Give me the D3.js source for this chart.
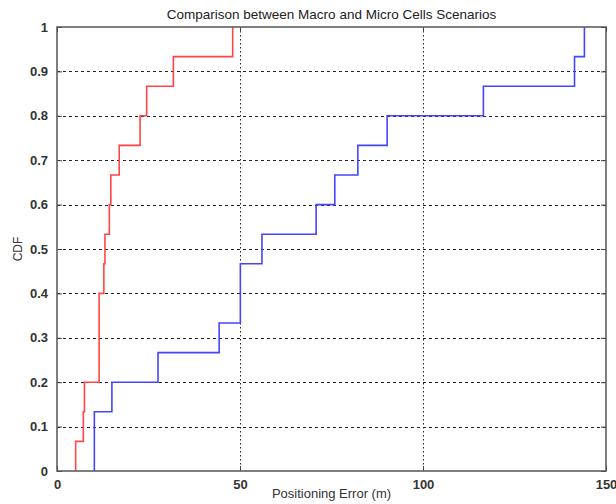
<!DOCTYPE html>
<html>
<head>
<meta charset="utf-8">
<script src="https://cdn.jsdelivr.net/npm/d3@7"></script>
<style>
  html, body { margin: 0; padding: 0; background: #fff; }
  svg { display: block; font-family: "Liberation Sans", Arial, sans-serif; }
</style>
</head>
<body>
<svg id="chart" width="616" height="504"></svg>
<script>
// Sorted samples read from the empirical CDF steps (15 samples each)
const macroErrors = [5.1, 7.2, 7.5, 11.5, 11.5, 11.5, 12.8, 13.1, 14.3, 14.7, 17.0, 22.7, 24.5, 31.8, 48.0];
const microErrors = [10.2, 10.2, 15.0, 27.6, 44.3, 50.1, 50.1, 56.0, 70.8, 75.9, 82.2, 90.2, 116.5, 141.4, 144.1];
const xTicks = [0, 50, 100, 150];
const yTicks = [0, 0.1, 0.2, 0.3, 0.4, 0.5, 0.6, 0.7, 0.8, 0.9, 1];
const yTickLabels = ["0", "0.1", "0.2", "0.3", "0.4", "0.5", "0.6", "0.7", "0.8", "0.9", "1"];
const titleText = "Comparison between Macro and Micro Cells Scenarios";
const xLabelText = "Positioning Error (m)";
const yLabelText = "CDF";

const svg = d3.select("#chart");
const m = { left: 57, top: 27, right: 606, bottom: 471 };
const x = d3.scaleLinear().domain([0, 150]).range([m.left, m.right]);
const y = d3.scaleLinear().domain([0, 1]).range([m.bottom, m.top]);
const W = m.right - m.left, H = m.bottom - m.top;

// grid
const grid = svg.append("g").attr("class", "grid");
grid.selectAll("line.h").data(yTicks.filter(t => t > 0 && t < 1)).enter().append("line")
  .attr("x1", m.left).attr("x2", m.right)
  .attr("y1", d => Math.round(y(d)) + 0.5).attr("y2", d => Math.round(y(d)) + 0.5)
  .attr("stroke", "#222").attr("stroke-width", 1).attr("stroke-dasharray", "3,3");
grid.selectAll("line.v").data(xTicks.filter(t => t > 0 && t < 150)).enter().append("line")
  .attr("y1", m.top).attr("y2", m.bottom)
  .attr("x1", d => Math.round(x(d)) + 0.5).attr("x2", d => Math.round(x(d)) + 0.5)
  .attr("stroke", "#222").attr("stroke-width", 1).attr("stroke-dasharray", "1.5,2.5");

// axes with inward ticks
const yLab = d3.scaleOrdinal().domain(yTicks).range(yTickLabels);
const axisStyle = g => {
  g.select(".domain").remove();
  g.selectAll(".tick line").attr("stroke", "#444").attr("stroke-width", 1);
  g.selectAll(".tick text").attr("fill", "#333").attr("font-size", "13px").attr("font-weight", "bold")
    .attr("font-family", "'Liberation Sans', Arial, sans-serif");
};
svg.append("g").attr("transform", `translate(0,${m.bottom})`)
  .call(d3.axisBottom(x).tickValues(xTicks).tickSizeInner(-5).tickSizeOuter(0).tickPadding(9).tickFormat(d3.format("d")))
  .call(axisStyle);
svg.append("g").attr("transform", `translate(0,${m.top})`)
  .call(d3.axisTop(x).tickValues(xTicks).tickSizeInner(-5).tickSizeOuter(0).tickFormat(""))
  .call(axisStyle);
svg.append("g").attr("transform", `translate(${m.left},0)`)
  .call(d3.axisLeft(y).tickValues(yTicks).tickSizeInner(-5).tickSizeOuter(0).tickPadding(9).tickFormat(d => yLab(d)))
  .call(axisStyle);
svg.append("g").attr("transform", `translate(${m.right},0)`)
  .call(d3.axisRight(y).tickValues(yTicks).tickSizeInner(-5).tickSizeOuter(0).tickFormat(""))
  .call(axisStyle);

// CDF step lines
function cdfPoints(arr) {
  const n = arr.length;
  const pts = [[arr[0], 0]];
  arr.forEach((v, i) => pts.push([v, (i + 1) / n]));
  return pts;
}
const line = d3.line().x(d => x(d[0])).y(d => y(d[1])).curve(d3.curveStepAfter);
svg.append("path").datum(cdfPoints(macroErrors)).attr("d", line)
  .attr("fill", "none").attr("stroke", "#ff4545").attr("stroke-width", 1.6);
svg.append("path").datum(cdfPoints(microErrors)).attr("d", line)
  .attr("fill", "none").attr("stroke", "#4545ff").attr("stroke-width", 1.6);

// box
svg.append("rect").attr("x", m.left).attr("y", m.top).attr("width", W).attr("height", H)
  .attr("fill", "none").attr("stroke", "#555").attr("stroke-width", 1.5);

// texts
svg.append("text").attr("x", (m.left + m.right) / 2).attr("y", 19).attr("text-anchor", "middle")
  .attr("font-size", "13.5px").attr("fill", "#222").text(titleText);
svg.append("text").attr("x", (m.left + m.right) / 2).attr("y", 498).attr("text-anchor", "middle")
  .attr("font-size", "13px").attr("fill", "#333").text(xLabelText);
svg.append("text").attr("transform", `translate(22,${(m.top + m.bottom) / 2}) rotate(-90)`)
  .attr("text-anchor", "middle").attr("font-size", "12px").attr("fill", "#333").text(yLabelText);
</script>
</body>
</html>
